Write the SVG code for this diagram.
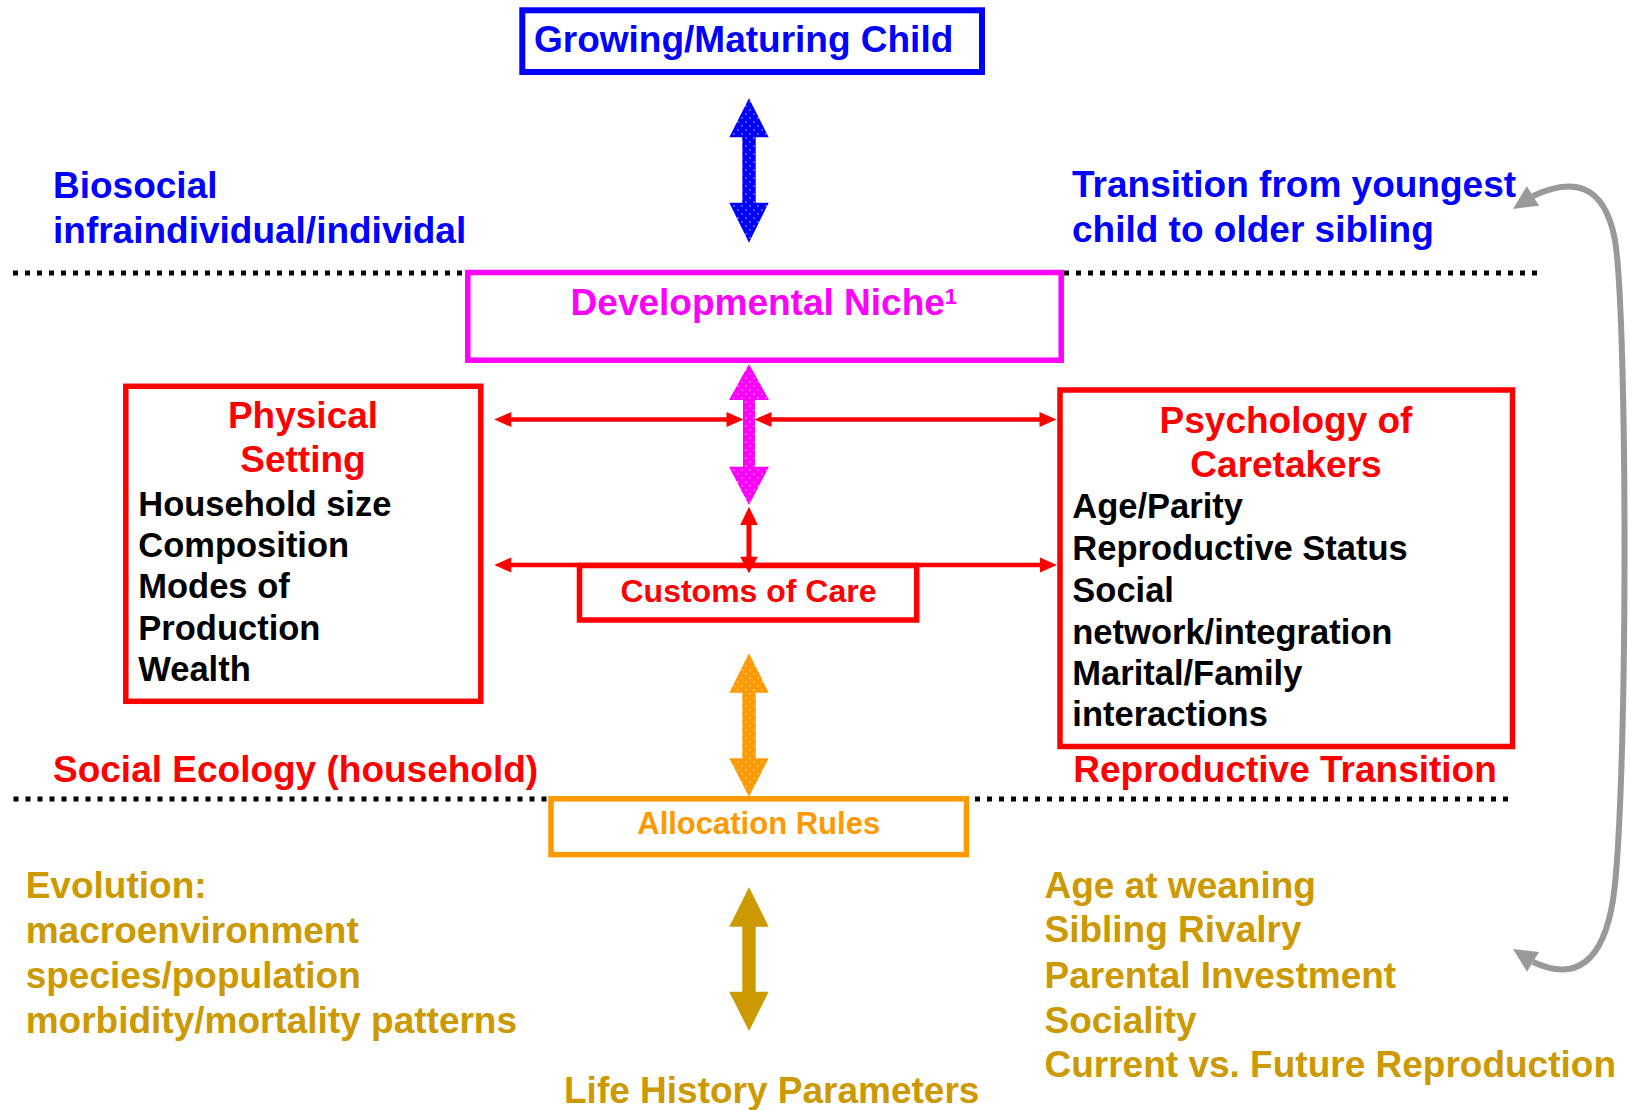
<svg xmlns="http://www.w3.org/2000/svg" width="1629" height="1110" viewBox="0 0 1629 1110">
<style>
text{font-family:"Liberation Sans",Arial,Helvetica,sans-serif;font-weight:bold}
.t37{font-size:37px}
.blk{font-size:34.5px;fill:#000}
.blue{fill:#0000FF}
.red{fill:#FF0000}
.mag{fill:#FF00FF}
.org{fill:#FF9900}
.gold{fill:#CC9900}
.box{fill:#fff;stroke-width:5.5}
.dots{fill:none;stroke:#000;stroke-width:5;stroke-dasharray:5 7}
</style>
<defs>
<pattern id="pBlue" width="8" height="8" patternUnits="userSpaceOnUse"><rect width="8" height="8" fill="#0000FF"/><circle cx="2" cy="2" r="0.75" fill="#fff" opacity="0.8"/><circle cx="6" cy="6" r="0.75" fill="#fff" opacity="0.8"/></pattern>
<pattern id="pMag" width="8" height="8" patternUnits="userSpaceOnUse"><rect width="8" height="8" fill="#FF00FF"/><circle cx="2" cy="2" r="0.75" fill="#fff" opacity="0.8"/><circle cx="6" cy="6" r="0.75" fill="#fff" opacity="0.8"/></pattern>
<pattern id="pOrg" width="8" height="8" patternUnits="userSpaceOnUse"><rect width="8" height="8" fill="#FF9900"/><circle cx="2" cy="2" r="0.75" fill="#fff" opacity="0.8"/><circle cx="6" cy="6" r="0.75" fill="#fff" opacity="0.8"/></pattern>
</defs>

<g id="dividers">
<line class="dots" x1="13" y1="273" x2="466" y2="273"/>
<line class="dots" x1="1064" y1="273" x2="1541" y2="273"/>
<line class="dots" x1="13.5" y1="799" x2="548" y2="799"/>
<line class="dots" x1="975" y1="799" x2="1511" y2="799"/>
</g>

<g id="connectors">
<polygon id="arrow-child-niche" fill="url(#pBlue)" points="749,98.3 768.7,137.3 755.7,137.3 755.7,202.7 768.7,202.7 749,242.7 729.3,202.7 742.3,202.7 742.3,137.3 729.3,137.3"/>
<polygon id="arrow-niche-customs" fill="url(#pMag)" points="749,364 769,400 755,400 755,466.7 769,466.7 749,505 729,466.7 743,466.7 743,400 729,400"/>
<polygon id="arrow-customs-allocation" fill="url(#pOrg)" points="749,653.3 768.7,692.7 755.7,692.7 755.7,758.3 768.7,758.3 749,796.7 729.3,758.3 742.3,758.3 742.3,692.7 729.3,692.7"/>
<polygon id="arrow-allocation-lifehistory" fill="#CC9900" points="749,887.3 768.7,926.7 755.7,926.7 755.7,991.7 768.7,991.7 749,1031 729.3,991.7 742.3,991.7 742.3,926.7 729.3,926.7"/>
<g fill="#FF0000">
<polygon id="arrow-physical-niche" points="494.3,419.5 511.3,412 511.3,417.2 726.5,417.2 726.5,412 743.5,419.5 726.5,427 726.5,421.8 511.3,421.8 511.3,427"/>
<polygon id="arrow-niche-psychology" points="754.5,419.5 771.5,412 771.5,417.2 1039.5,417.2 1039.5,412 1056.5,419.5 1039.5,427 1039.5,421.8 771.5,421.8 771.5,427"/>
<polygon id="arrow-physical-psychology" points="494.3,565 511.3,557.5 511.3,562.7 1040,562.7 1040,557.5 1057,565 1040,572.5 1040,567.3 511.3,567.3 511.3,572.5"/>
</g>
</g>

<g id="child">
<rect x="522.3" y="10.3" width="459.7" height="61.7" fill="#fff" stroke="#0000FF" stroke-width="6"/>
<text class="t37 blue" x="534" y="52">Growing/Maturing Child</text>
</g>

<g id="developmental-niche">
<rect class="box" x="467.8" y="272.5" width="593.4" height="87.7" stroke="#FF00FF" stroke-width="5"/>
<text class="t37 mag" x="570.6" y="315">Developmental Niche<tspan font-size="22" dy="-11">1</tspan></text>
</g>

<g id="physical-setting">
<rect class="box" x="125.8" y="386.3" width="355" height="315" stroke="#FF0000" stroke-width="5"/>
<text class="t37 red" x="303" y="427.5" text-anchor="middle">Physical</text>
<text class="t37 red" x="303" y="472" text-anchor="middle">Setting</text>
<text class="blk" x="138.3" y="515.5">Household size</text>
<text class="blk" x="138.3" y="557">Composition</text>
<text class="blk" x="138.3" y="598.4">Modes of</text>
<text class="blk" x="138.3" y="640.2">Production</text>
<text class="blk" x="138.3" y="681">Wealth</text>
</g>

<g id="psychology-of-caretakers">
<rect class="box" x="1060" y="390" width="452.5" height="356.5" stroke="#FF0000" stroke-width="5.3"/>
<text class="t37 red" x="1286" y="432.5" text-anchor="middle">Psychology of</text>
<text class="t37 red" x="1286" y="477" text-anchor="middle">Caretakers</text>
<text class="blk" x="1072.3" y="518">Age/Parity</text>
<text class="blk" x="1072.3" y="560">Reproductive Status</text>
<text class="blk" x="1072.3" y="601.5">Social</text>
<text class="blk" x="1072.3" y="643.5">network/integration</text>
<text class="blk" x="1072.3" y="684.5">Marital/Family</text>
<text class="blk" x="1072.3" y="726">interactions</text>
</g>

<g id="customs-of-care">
<rect class="box" x="579.5" y="565.5" width="337.2" height="54.5" stroke="#FF0000"/>
<text class="red" font-size="32" x="748.5" y="601.7" text-anchor="middle">Customs of Care</text>
</g>
<polygon id="arrow-niche-customs-small" fill="#FF0000" points="749,506.7 757.8,525 751.5,525 751.5,556.7 757.8,556.7 749,573.3 740.2,556.7 746.5,556.7 746.5,525 740.2,525"/>

<g id="allocation-rules">
<rect class="box" x="551" y="798.8" width="415.5" height="55.8" stroke="#FF9900"/>
<text class="org" font-size="31" x="758.7" y="834" text-anchor="middle">Allocation Rules</text>
</g>

<g id="level-labels">
<text class="t37 blue" x="53" y="198">Biosocial</text>
<text class="t37 blue" x="53" y="242.5">infraindividual/individal</text>
<text class="t37 blue" x="1072" y="197">Transition from youngest</text>
<text class="t37 blue" x="1072" y="241.7">child to older sibling</text>
<text class="t37 red" x="53" y="782">Social Ecology (household)</text>
<text class="t37 red" x="1073.3" y="782">Reproductive Transition</text>
</g>

<g id="evolution">
<text class="t37 gold" x="25.7" y="898.3">Evolution:</text>
<text class="t37 gold" x="25.7" y="942.7">macroenvironment</text>
<text class="t37 gold" x="25.7" y="988">species/population</text>
<text class="t37 gold" x="25.7" y="1032.7">morbidity/mortality patterns</text>
</g>

<g id="life-history-parameters">
<text class="t37 gold" x="1044.5" y="898.3">Age at weaning</text>
<text class="t37 gold" x="1044.5" y="942">Sibling Rivalry</text>
<text class="t37 gold" x="1044.5" y="988">Parental Investment</text>
<text class="t37 gold" x="1044.5" y="1033">Sociality</text>
<text class="t37 gold" x="1044.5" y="1076.7">Current vs. Future Reproduction</text>
<text class="t37 gold" x="564" y="1103.3">Life History Parameters</text>
</g>

<g id="transition-loop">
<path d="M 1533 196 C 1572 178, 1604 182, 1615 240 C 1628 320, 1628 800, 1613 900 C 1603 962, 1576 982, 1533 962" fill="none" stroke="#999999" stroke-width="6"/>
<polygon fill="#999999" points="1513,209 1526.8,186.3 1539.2,205.7"/>
<polygon fill="#999999" points="1513,949 1539,952 1527,971.7"/>
</g>
</svg>
